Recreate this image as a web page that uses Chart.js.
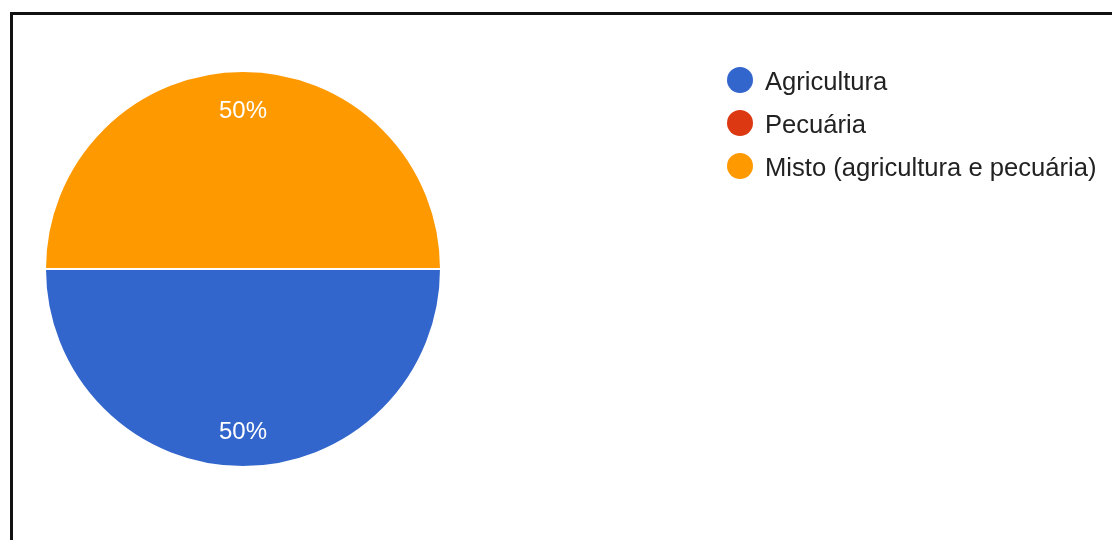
<!DOCTYPE html>
<html>
<head>
<meta charset="utf-8">
<script src="https://cdn.jsdelivr.net/npm/chart.js@4"></script>
<style>
  html, body { margin: 0; padding: 0; background: #fff; overflow: hidden; }
  body { width: 1112px; height: 540px; position: relative; font-family: "Liberation Sans", Arial, sans-serif; }
  #frame { position: absolute; left: 10px; top: 12px; width: 1200px; height: 600px; border: 3px solid #111; box-sizing: border-box; }
  #pie { position: absolute; left: 0; top: 0; }
  #legend { position: absolute; left: 727px; top: 67px; margin: 0; padding: 0; list-style: none; }
  #legend li { height: 43px; display: flex; align-items: flex-start; font-size: 25.6px; color: #222; white-space: nowrap; }
  #legend .dot { width: 26px; height: 26px; border-radius: 50%; margin-right: 12px; flex: none; }
  #legend span.txt { line-height: 28px; }
</style>
</head>
<body>
<div id="frame"></div>
<canvas id="pie" width="1112" height="540"></canvas>
<ul id="legend"></ul>
<script>
/* data */
const categories = ["Agricultura", "Pecuária", "Misto (agricultura e pecuária)"];
const shares = [50, 0, 50]; // percent
const colours = ["#3366cc", "#dc3912", "#ff9900"];

/* percentage labels inside slices */
const sliceLabels = {
    id: 'sliceLabels',
    afterDatasetsDraw(chart) {
        const ctx = chart.ctx;
        const meta = chart.getDatasetMeta(0);
        const total = shares.reduce((a, b) => a + b, 0);
        ctx.save();
        ctx.fillStyle = '#ffffff';
        ctx.font = '24px "Liberation Sans", Arial, sans-serif';
        ctx.textAlign = 'center';
        ctx.textBaseline = 'middle';
        meta.data.forEach(function(arc, i) {
            if (!shares[i]) return;
            const p = arc.getProps(['x', 'y', 'startAngle', 'endAngle', 'outerRadius'], true);
            const mid = (p.startAngle + p.endAngle) / 2;
            const r = p.outerRadius * 0.81;
            const pct = Math.round(shares[i] / total * 100) + '%';
            ctx.fillText(pct, p.x + Math.cos(mid) * r, p.y + Math.sin(mid) * r + 3);
        });
        ctx.restore();
    }
};

const chart = new Chart(document.getElementById('pie').getContext('2d'), {
    type: 'pie',
    data: {
        labels: categories,
        datasets: [{
            data: shares,
            backgroundColor: colours,
            borderColor: '#ffffff',
            borderWidth: 2
        }]
    },
    options: {
        responsive: false,
        animation: false,
        rotation: 90, // first slice starts at 3 o'clock
        layout: { padding: { left: 44, top: 70, right: 670, bottom: 72 } },
        plugins: {
            legend: { display: false },
            tooltip: { enabled: false }
        }
    },
    plugins: [sliceLabels]
});

/* legend built from the chart's own labels and colours */
const legendEl = document.getElementById('legend');
chart.data.labels.forEach(function(lab, i) {
    const li = document.createElement('li');
    const dot = document.createElement('span');
    dot.className = 'dot';
    dot.style.background = chart.data.datasets[0].backgroundColor[i];
    const txt = document.createElement('span');
    txt.className = 'txt';
    txt.textContent = lab;
    li.appendChild(dot);
    li.appendChild(txt);
    legendEl.appendChild(li);
});
</script>
</body>
</html>
